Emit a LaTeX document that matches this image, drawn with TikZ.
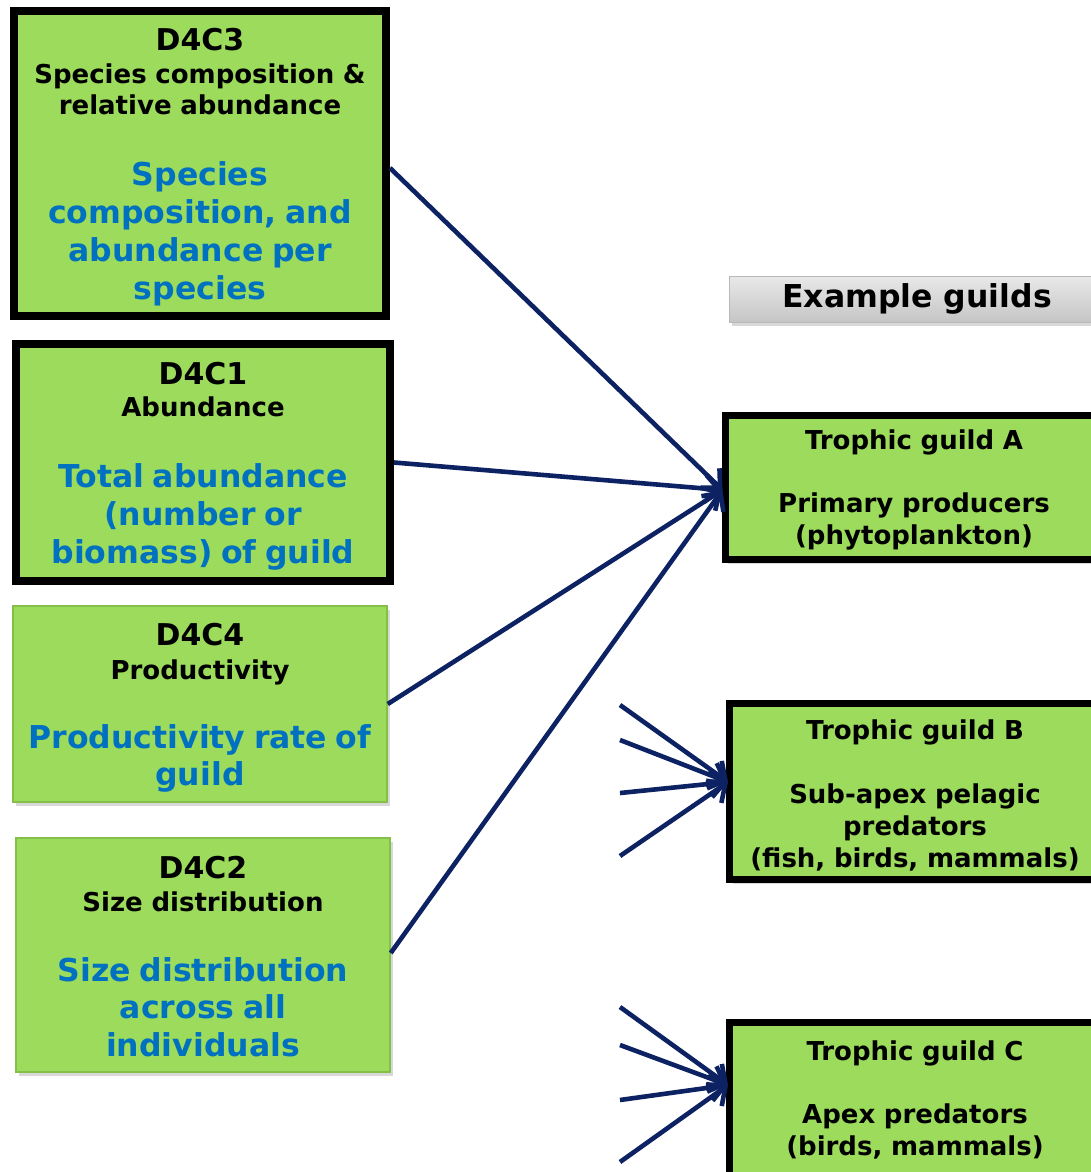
\documentclass[tikz,border=0pt]{standalone}
\usepackage{fontspec}
\setmainfont{DejaVu Sans}
\usetikzlibrary{arrows.meta,shadows,calc}
\definecolor{boxgreen}{RGB}{156,219,92}
\definecolor{txtblue}{RGB}{0,112,192}
\definecolor{navy}{RGB}{13,34,98}
\definecolor{bevel}{RGB}{132,192,72}
\newcommand\tbig[1]{{\fontsize{30}{30}\selectfont #1}}
\newcommand\tblu[1]{{\fontsize{31.5}{31.5}\selectfont\color{txtblue}#1}}
\newcommand\nolsl{\lineskiplimit=-100pt }
\newcommand\upr[1]{\rule{0pt}{#1}}
\tikzset{
  shad/.style={drop shadow={opacity=0.3, shadow xshift=3pt, shadow yshift=-4pt}},
  txtbase/.style={align=center, text width=366pt, inner sep=0pt,
    font=\bfseries\fontsize{26}{31}\selectfont\nolsl},
  critbox/.style={txtbase, rectangle, fill=boxgreen, draw=black, line width=8pt, shad},
  softbox/.style={txtbase, rectangle, fill=boxgreen, draw=bevel, line width=1.5pt, shad},
  guildbox/.style={txtbase, rectangle, fill=boxgreen, draw=black, line width=7pt, shad},
  headbar/.style={rectangle, inner sep=0pt, top color=gray!18, middle color=white,
    bottom color=gray!45, draw=gray!55, line width=0.8pt, shad,
    font=\bfseries\fontsize{31.5}{31.5}\selectfont},
  link/.style={navy, line width=4.6pt, -{Straight Barb[length=14pt,width=27pt]}},
}
\begin{document}
\begin{tikzpicture}[x=1pt,y=-1pt]
\clip (0,0) rectangle (1091,1172);
\fill[white] (0,0) rectangle (1091,1172);

% criteria boxes
\node[critbox, minimum width=372pt, minimum height=305pt] (d4c3) at (200,163.5)
  {\upr{30pt}\tbig{D4C3}\\[1.7pt] Species composition \&\\ relative abundance\\[40pt]
   \tblu{Species}\\[7pt] \tblu{composition, and}\\[7pt] \tblu{abundance per}\\[7pt] \tblu{species}};
\node[critbox, minimum width=374pt, minimum height=237pt] (d4c1) at (203,462.5)
  {\upr{30pt}\tbig{D4C1}\\[1.7pt] Abundance\\[40pt]
   \tblu{Total abundance}\\[7pt] \tblu{(number or}\\[7pt] \tblu{biomass) of guild}};
\node[softbox, minimum width=374pt, minimum height=196pt] (d4c4) at (200,704)
  {\upr{30pt}\tbig{D4C4}\\[3.3pt] Productivity\\[38pt]
   \tblu{Productivity rate of}\\[5.7pt] \tblu{guild}};
\node[softbox, minimum width=374pt, minimum height=234pt] (d4c2) at (203,955)
  {\upr{25pt}\tbig{D4C2}\\[2.3pt] Size distribution\\[38.3pt]
   \tblu{Size distribution}\\[6.5pt] \tblu{across all}\\[6.5pt] \tblu{individuals}};

% header
\node[headbar, minimum width=376pt, minimum height=46pt] (head) at (917,299) {Example guilds};

% guild boxes
\node[guildbox, minimum width=378pt, minimum height=144pt] (gA) at (914,487.5)
  {\upr{24pt}Trophic guild A\\[32.3pt] Primary producers\\[0.7pt] (phytoplankton)};
\node[guildbox, minimum width=371pt, minimum height=176pt] (gB) at (915,791.5)
  {\upr{28pt}Trophic guild B\\[33pt] Sub-apex pelagic\\[0.7pt] predators\\[0.7pt] (fish, birds, mammals)};
\node[guildbox, minimum width=371pt, minimum height=154pt] (gC) at (915,1099.5)
  {Trophic guild C\\[32.3pt] Apex predators\\[0.7pt] (birds, mammals)};

% free arrow ends
\coordinate (b1) at (620,705);
\coordinate (b2) at (620,740);
\coordinate (b3) at (620,793);
\coordinate (b4) at (620,856);
\coordinate (c1) at (620,1007);
\coordinate (c2) at (620,1045);
\coordinate (c3) at (620,1100);
\coordinate (c4) at (620,1162);

% connectors
\draw[link] ($(d4c3.east)+(0,4.5)$) -- ($(gA.west)+(1,2.5)$);
\draw[link] (d4c1.east) -- ($(gA.west)+(1,2.5)$);
\draw[link] (d4c4.east) -- ($(gA.west)+(1,2.5)$);
\draw[link] ($(d4c2.east)+(0,-2)$) -- ($(gA.west)+(1,2.5)$);

\foreach \p in {b1,b2,b3,b4} \draw[link] (\p) -- ($(gB.west)+(2,-9.5)$);
\foreach \p in {c1,c2,c3,c4} \draw[link] (\p) -- ($(gC.west)+(2,-14.5)$);
\end{tikzpicture}
\end{document}
